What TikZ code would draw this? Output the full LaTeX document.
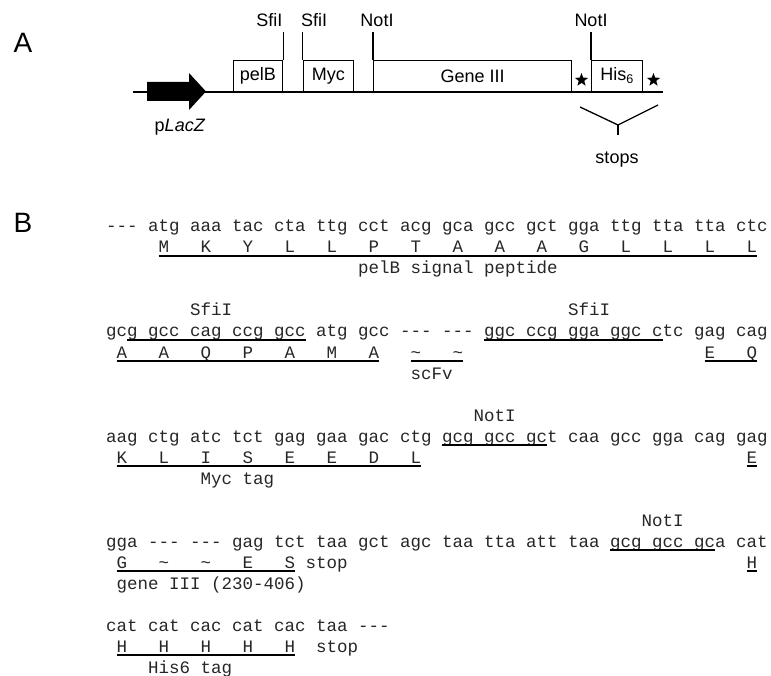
\documentclass[tikz,border=0pt]{standalone}
\usepackage{fontspec}
\setmainfont{Liberation Sans}
\setmonofont{Liberation Mono}
\usetikzlibrary{shapes.geometric, positioning}

% sequence text: name, column, row, text
\newcommand{\seqat}[4]{\node[seq] (#1) at ({106+10.5*#2},{232+21*#3}) {#4};}
% underline from the first to the last node
\newcommand{\ulink}[2]{\draw[uline] ([yshift=-3pt]#1.base west) -- ([yshift=-3pt]#2.base east);}

\begin{document}
\begin{tikzpicture}[
    x=1pt, y=-1pt,
    every node/.style={font=\fontsize{18}{20}\selectfont},
    panel/.style={font=\fontsize{28}{30}\selectfont, inner sep=0, anchor=base},
    gbox/.style={
        rectangle,
        draw,
        line width=1.3pt,
        fill=white,
        anchor=south west,
        minimum height=31pt,
        inner sep=0
    },
    site/.style={inner sep=0, outer ysep=5pt, anchor=base},
    wire/.style={line width=1.3pt},
    seq/.style={font=\ttfamily\fontsize{17.5}{21}\selectfont, text=black!85, inner sep=0, anchor=base west},
    uline/.style={line width=1.8pt}
]
\useasboundingbox (0,0) rectangle (771,676);

% PANEL A
\node[panel] (labA) at (23,53) {A};
\coordinate (bbL) at (133,92);
\coordinate (bbR) at (663,92);
\draw[wire] (bbL) -- (bbR);
\fill (147,82) -- (189,82) -- (189,73) -- (206,91.5) -- (189,110) -- (189,101) -- (147,101) -- cycle;
\node (placz) at (180,127) {p\textit{LacZ}};

\node[gbox, minimum width=49.5pt] (pelb) at (232.5,92) {pelB};
\node[gbox, minimum width=50.5pt] (myc) at (302.5,92) {Myc};
\node[gbox, minimum width=198pt] (gene) at (373,92) {Gene III};
\node[gbox, minimum width=51pt] (his) at (591,92) {His\textsubscript{6}};

\node[site, anchor=base east] (sfiA) at (282.5,27) {SfiI};
\node[site, anchor=base west] (sfiB) at (301,27) {SfiI};
\node[site] (notA) at (377,27) {NotI};
\node[site] (notB) at (591,27) {NotI};

\draw[wire] (pelb.north east) -- (pelb.north east |- sfiA.south);
\draw[wire] (myc.north west) -- (myc.north west |- sfiB.south);
\draw[wire] (gene.north west) -- (gene.north west |- notA.south);
\draw[wire] (his.north west) -- (his.north west |- notB.south);

\node[star, star points=5, star point ratio=2.4, fill=black, inner sep=0, minimum size=14pt] (starA) at (581.5,80) {};
\node[star, star points=5, star point ratio=2.4, fill=black, inner sep=0, minimum size=14pt] (starB) at (653.5,80) {};

\coordinate (stopL) at (580,107);
\coordinate (stopR) at (658,105);
\coordinate (fork) at (618,125);
\coordinate (stem) at (618,135);
\draw[wire] (stopL) -- (fork) -- (stopR);
\draw[wire] (fork) -- (stem);
\node[anchor=base] (stops) at (617,164) {stops};

% PANEL B
\node[panel] (labB) at (23,233) {B};

% pelB
\seqat{d0}{0}{0}{--- atg aaa tac cta ttg cct acg gca gcc gct gga ttg tta tta ctc}
\foreach \c/\a in {5/M,9/K,13/Y,17/L,21/L,25/P,29/T,33/A,37/A,41/A,45/G,49/L,53/L,57/L,61/L}
    {\seqat{aa1-\c}{\c}{1}{\a}}
\ulink{aa1-5}{aa1-61}
\seqat{t2}{24}{2}{pelB signal peptide}

% scFv
\seqat{sfi4a}{8}{4}{SfiI}
\seqat{sfi4b}{44}{4}{SfiI}
\seqat{d5a}{0}{5}{gc}
\seqat{d5b}{2}{5}{g gcc cag ccg gcc}
\seqat{d5c}{20}{5}{atg gcc --- ---}
\seqat{d5d}{36}{5}{ggc ccg gga ggc c}
\seqat{d5e}{53}{5}{tc gag cag}
\ulink{d5b}{d5b}
\ulink{d5d}{d5d}
\foreach \c/\a in {1/A,5/A,9/Q,13/P,17/A,21/M,25/A,29/\textasciitilde,33/\textasciitilde,57/E,61/Q}
    {\seqat{aa6-\c}{\c}{6}{\a}}
\ulink{aa6-1}{aa6-25}
\ulink{aa6-29}{aa6-33}
\ulink{aa6-57}{aa6-61}
\seqat{t7}{29}{7}{scFv}

% Myc
\seqat{not9}{35}{9}{NotI}
\seqat{d10a}{0}{10}{aag ctg atc tct gag gaa gac ctg}
\seqat{d10b}{32}{10}{gcg gcc gc}
\seqat{d10c}{42}{10}{t caa gcc gga cag gag}
\ulink{d10b}{d10b}
\foreach \c/\a in {1/K,5/L,9/I,13/S,17/E,21/E,25/D,29/L,61/E}
    {\seqat{aa11-\c}{\c}{11}{\a}}
\ulink{aa11-1}{aa11-29}
\ulink{aa11-61}{aa11-61}
\seqat{t12}{9}{12}{Myc tag}

% gene III
\seqat{not14}{51}{14}{NotI}
\seqat{d15a}{0}{15}{gga --- --- gag tct taa gct agc taa tta att taa}
\seqat{d15b}{48}{15}{gcg gcc gc}
\seqat{d15c}{58}{15}{a cat}
\ulink{d15b}{d15b}
\foreach \c/\a in {1/G,5/\textasciitilde,9/\textasciitilde,13/E,17/S,61/H}
    {\seqat{aa16-\c}{\c}{16}{\a}}
\seqat{stop16}{19}{16}{stop}
\ulink{aa16-1}{aa16-17}
\ulink{aa16-61}{aa16-61}
\seqat{t17}{1}{17}{gene III (230-406)}

% His6
\seqat{d19}{0}{19}{cat cat cac cat cac taa ---}
\foreach \c in {1,5,9,13,17}
    {\seqat{aa20-\c}{\c}{20}{H}}
\seqat{stop20}{20}{20}{stop}
\ulink{aa20-1}{aa20-17}
\seqat{t21}{4}{21}{His6 tag}

\end{tikzpicture}
\end{document}
